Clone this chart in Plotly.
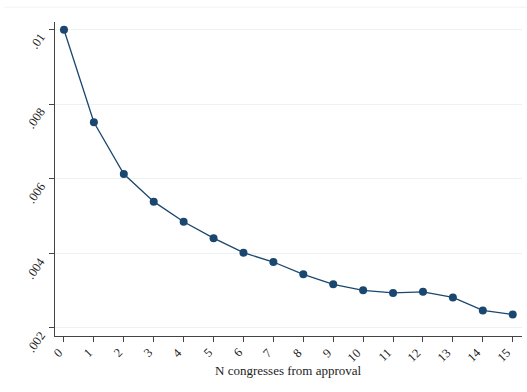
import plotly.graph_objects as go

# Congress distance from approval and the estimated effect at each distance
congresses = list(range(16))
effect = [0.01, 0.00752, 0.00613, 0.00539, 0.00485, 0.00441, 0.00402, 0.00377,
          0.00344, 0.00317, 0.00301, 0.00294, 0.00297, 0.00282, 0.00247, 0.00236]
x_tick_text = [str(c) for c in congresses]

y_ticks = [0.002, 0.004, 0.006, 0.008, 0.01]
y_tick_text = [".002", ".004", ".006", ".008", ".01"]

navy = "#1a476f"
serif = "Liberation Serif, Times New Roman, serif"

fig = go.Figure()
fig.add_trace(go.Scatter(
    x=congresses, y=effect, mode="lines+markers",
    line=dict(color=navy, width=1.3),
    marker=dict(color=navy, size=8),
    showlegend=False, hoverinfo="skip",
))

fig.update_layout(
    width=527, height=392,
    margin=dict(l=55, r=5, t=22, b=56),
    paper_bgcolor="white", plot_bgcolor="white",
    font=dict(family=serif, size=12, color="#222"),
)
fig.update_xaxes(
    range=[-0.30, 15.31], tickmode="array", tickvals=congresses,
    showticklabels=False, automargin=False,
    ticks="outside", ticklen=5, tickcolor="#444",
    showline=True, linecolor="#444", linewidth=1.2,
    showgrid=False, zeroline=False,
)
fig.update_yaxes(
    range=[0.001785, 0.010209], tickmode="array", tickvals=y_ticks,
    showticklabels=False, automargin=False,
    ticks="outside", ticklen=5,
    tickcolor="#444", showline=True, linecolor="#444", linewidth=1.2,
    showgrid=True, gridcolor="#eaf2f3", gridwidth=1, zeroline=False,
)

# slanted x tick labels, each ending just under its tick
for c, label in zip(congresses, x_tick_text):
    fig.add_annotation(
        x=c, y=0, xref="x", yref="paper", text=label, textangle=-45,
        showarrow=False, xanchor="right", yanchor="top",
        xshift=4, yshift=-7, font=dict(size=12.5, color="#222"),
    )

# slanted y tick labels, reading up toward their ticks
for v, label in zip(y_ticks, y_tick_text):
    fig.add_annotation(
        x=0, y=v, xref="paper", yref="y", text=label, textangle=-55,
        showarrow=False, xanchor="right", yanchor="top",
        xshift=-4, yshift=2, font=dict(size=12.5, color="#222"),
    )

# x axis title
fig.add_annotation(
    x=0.5, y=0, xref="paper", yref="paper", text="N congresses from approval",
    showarrow=False, xanchor="center", yanchor="middle", yshift=-34,
    font=dict(size=13, color="#222"),
)

# faint outline along the top of the graph region
fig.add_shape(type="line", xref="paper", yref="paper", x0=-0.108, x1=1.02,
              y0=1.047, y1=1.047, line=dict(color="#f2f4f4", width=1))

fig.write_html("out.html")
